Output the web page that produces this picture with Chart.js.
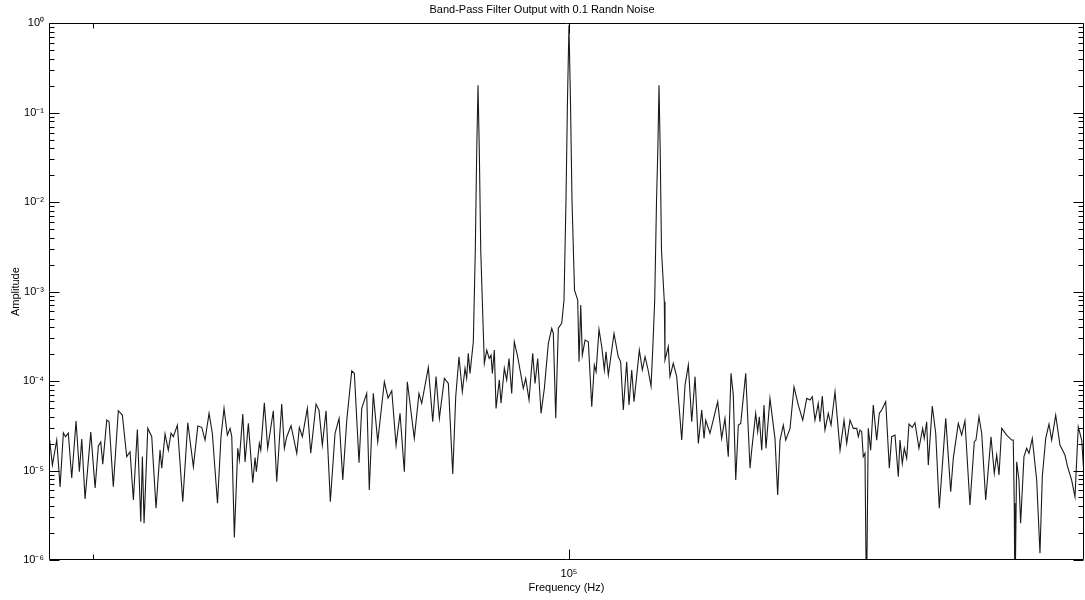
<!DOCTYPE html>
<html lang="en">
<head>
    <meta charset="UTF-8">
    <title>Band-Pass Filter Output</title>
    <script src="https://cdn.jsdelivr.net/npm/chart.js"></script>
    <style>
        html, body { margin: 0; padding: 0; background: #fff; }
        #wrap { width: 1085px; height: 600px; }
    </style>
</head>
<body>
    <div id="wrap"><canvas id="spectrum"></canvas></div>

    <script>
        // Spectrum: frequency (Hz) and amplitude
        const freqHz = [
            89120, 89185, 89271, 89337, 89402, 89445, 89500, 89568, 89654, 89720,
            89767, 89833, 89947, 90033, 90098, 90146, 90186, 90266, 90312, 90397,
            90497, 90578, 90666, 90733, 90800, 90880, 90949, 90981, 91015, 91090,
            91170, 91257, 91338, 91372, 91439, 91505, 91560, 91607, 91689, 91799,
            91901, 92015, 92105, 92186, 92253, 92335, 92402, 92508, 92580, 92642,
            92710, 92766, 92801, 92854, 92924, 92957, 93028, 93075, 93143, 93234,
            93281, 93308, 93370, 93399, 93473, 93543, 93659, 93730, 93834, 93889,
            93939, 94028, 94147, 94201, 94264, 94368, 94439, 94550, 94612, 94682,
            94760, 94850, 94949, 95034, 95112, 95196, 95301, 95356, 95455, 95512,
            95617, 95672, 95757, 95851, 95992, 96071, 96150, 96241, 96326, 96418,
            96482, 96631, 96731, 96790, 96932, 97027, 97098, 97169, 97277, 97363,
            97458, 97522, 97593, 97665, 97723, 97759, 97794, 97831, 97903, 97946,
            97977, 98005, 98033, 98064, 98121, 98142, 98195, 98247, 98288, 98317,
            98360, 98397, 98469, 98506, 98578, 98630, 98681, 98739, 98796, 98870,
            98993, 99046, 99119, 99200, 99251, 99310, 99383, 99456, 99544, 99619,
            99654, 99707, 99764, 99839, 99890, 99934, 99967, 100000, 100033, 100067,
            100123, 100194, 100223, 100261, 100296, 100357, 100430, 100506, 100564, 100602,
            100668, 100729, 100787, 100824, 100876, 101003, 101098, 101152, 101211, 101287,
            101339, 101400, 101452, 101571, 101639, 101700, 101761, 101835, 101873, 101918,
            101959, 101988, 102015, 102042, 102071, 102135, 102150, 102225, 102263, 102338,
            102416, 102530, 102605, 102680, 102757, 102833, 102908, 102985, 103038, 103076,
            103174, 103350, 103441, 103517, 103593, 103656, 103708, 103764, 103824, 103879,
            103994, 104093, 104132, 104224, 104270, 104307, 104363, 104416, 104462, 104554,
            104670, 104733, 104787, 104864, 104920, 105020, 105113, 105213, 105316, 105409,
            105486, 105539, 105602, 105679, 105719, 105773, 105836, 105914, 105978, 106072,
            106190, 106284, 106347, 106425, 106503, 106583, 106621, 106661, 106701, 106738,
            106778, 106814, 106856, 106913, 106975, 107056, 107118, 107175, 107270, 107356,
            107413, 107491, 107570, 107610, 107665, 107713, 107770, 107825, 107903, 107968,
            108063, 108152, 108190, 108248, 108287, 108383, 108465, 108551, 108706, 108826,
            108888, 109009, 109091, 109170, 109291, 109396, 109437, 109510, 109576, 109673,
            109802, 109882, 109941, 109997, 110062, 110184, 110306, 110345, 110369, 110386,
            110428, 110484, 110525, 110607, 110673, 110730, 110811, 110919, 111000, 111057,
            111141, 111222, 111288, 111387, 111493, 111616, 111682, 111782, 111864, 111946,
            112031, 112095
        ];

        const amplitude = [
            2.49e-5, 1.15e-5, 2.19e-5, 6.55e-6, 2.64e-5, 2.39e-5, 2.62e-5, 8.24e-6, 3.57e-5, 9.7e-6,
            2.25e-5, 4.81e-6, 2.69e-5, 6.37e-6, 1.88e-5, 2.08e-5, 1.18e-5, 3.66e-5, 3.51e-5, 6.59e-6,
            4.66e-5, 4.17e-5, 1.43e-5, 1.62e-5, 4.68e-6, 2.88e-5, 2.68e-6, 1.43e-5, 2.57e-6, 2.96e-5,
            2.39e-5, 3.78e-6, 1.69e-5, 1.06e-5, 2.56e-5, 1.69e-5, 2.61e-5, 2.39e-5, 3.22e-5, 4.48e-6,
            3.42e-5, 1.10e-5, 3.14e-5, 3.04e-5, 2.19e-5, 4.36e-5, 2.61e-5, 4.31e-6, 2.39e-5, 4.95e-5,
            2.49e-5, 2.96e-5, 2.39e-5, 1.79e-6, 1.77e-5, 1.31e-5, 4.28e-5, 1.25e-5, 3.37e-5, 7.31e-6,
            1.40e-5, 9.7e-6, 2.01e-5, 1.69e-5, 5.71e-5, 1.77e-5, 4.66e-5, 7.5e-6, 5.53e-5, 1.77e-5,
            2.39e-5, 3.17e-5, 1.56e-5, 3.04e-5, 2.39e-5, 4.95e-5, 1.56e-5, 5.53e-5, 4.74e-5, 1.93e-5,
            4.66e-5, 4.48e-6, 2.61e-5, 3.83e-5, 7.83e-6, 3.66e-5, 1.30e-4, 1.22e-4, 1.22e-5, 4.95e-5,
            7.29e-5, 6.05e-6, 7.29e-5, 2.10e-5, 9.82e-5, 6.46e-5, 7.80e-5, 1.93e-5, 4.36e-5, 9.7e-6,
            9.82e-5, 2.29e-5, 7.29e-5, 5.64e-5, 1.42e-4, 3.51e-5, 1.12e-4, 3.83e-5, 1.07e-4, 9.42e-5,
            9.14e-6, 6.68e-5, 1.87e-4, 7.59e-5, 1.39e-4, 1.07e-4, 2.04e-4, 1.22e-4, 2.75e-4, 2.91e-3,
            3.81e-2, 0.203, 3.81e-2, 2.91e-3, 3.41e-4, 1.58e-4, 2.22e-4, 1.79e-4, 1.95e-4, 1.22e-4,
            2.22e-4, 4.95e-5, 1.03e-4, 5.64e-5, 1.39e-4, 1.03e-4, 1.79e-4, 7.29e-5, 2.75e-4, 1.87e-4,
            8.28e-5, 1.07e-4, 6.14e-5, 2.04e-4, 9.42e-5, 1.79e-4, 4.36e-5, 8.28e-5, 2.64e-4, 3.88e-4,
            3.41e-4, 3.83e-5, 3.91e-4, 4.42e-4, 8.04e-4, 1.05e-2, 0.138, 0.95, 0.138, 1.05e-2,
            1.04e-3, 8.04e-4, 1.64e-4, 7.06e-4, 1.95e-4, 2.87e-4, 2.75e-4, 5.16e-5, 1.51e-4, 1.27e-4,
            3.78e-4, 2.42e-4, 1.33e-4, 2.12e-4, 1.17e-4, 3.41e-4, 1.87e-4, 1.64e-4, 4.74e-5, 1.64e-4,
            5.39e-5, 1.33e-4, 5.87e-5, 2.22e-4, 1.33e-4, 1.87e-4, 1.39e-4, 8.79e-5, 2.22e-4, 8.04e-4,
            1.05e-2, 3.81e-2, 0.203, 3.81e-2, 2.91e-3, 7.69e-4, 1.72e-4, 2.42e-4, 1.12e-4, 1.58e-4,
            1.12e-4, 2.19e-5, 9.02e-5, 1.51e-4, 3.51e-5, 1.12e-4, 2.01e-5, 4.74e-5, 2.29e-5, 3.66e-5,
            2.61e-5, 5.87e-5, 2.29e-5, 3.83e-5, 1.43e-5, 1.22e-4, 6.98e-5, 7.83e-6, 3.22e-5, 3.37e-5,
            1.22e-4, 1.06e-5, 1.69e-5, 4.36e-5, 2.72e-5, 3.99e-5, 1.69e-5, 5.39e-5, 1.77e-5, 6.41e-5,
            2.29e-5, 5.32e-6, 2.19e-5, 3.22e-5, 2.19e-5, 2.96e-5, 8.63e-5, 5.39e-5, 3.66e-5, 6.41e-5,
            6.14e-5, 6.68e-5, 3.66e-5, 5.64e-5, 3.51e-5, 6.79e-5, 2.84e-5, 4.36e-5, 3.22e-5, 7.59e-5,
            1.69e-5, 3.66e-5, 2.01e-5, 3.66e-5, 2.96e-5, 2.96e-5, 2.39e-5, 2.84e-5, 2.72e-5, 1.43e-5,
            1.56e-5, 3e-7, 2.96e-5, 1.69e-5, 5.39e-5, 2.19e-5, 4.36e-5, 4.74e-5, 5.87e-5, 1.06e-5,
            2.39e-5, 2.49e-5, 8.53e-6, 2.19e-5, 1.20e-5, 1.77e-5, 1.37e-5, 3.31e-5, 3.04e-5, 3.42e-5,
            1.77e-5, 2.96e-5, 2.29e-5, 3.51e-5, 1.15e-5, 5.26e-5, 2.61e-5, 3.78e-6, 3.83e-5, 5.79e-6,
            1.37e-5, 3.37e-5, 2.49e-5, 3.60e-5, 4.12e-6, 2.10e-5, 2.19e-5, 3.99e-5, 2.61e-5, 4.68e-6,
            2.39e-5, 9.31e-6, 1.49e-5, 8.91e-6, 2.96e-5, 2.49e-5, 2.19e-5, 2.19e-5, 4.31e-6, 3e-7,
            1.25e-5, 7.83e-6, 2.57e-6, 1.43e-5, 1.77e-5, 1.56e-5, 2.29e-5, 7.83e-6, 1.19e-6, 8.53e-6,
            2.29e-5, 3.31e-5, 2.19e-5, 4.17e-5, 1.93e-5, 1.49e-5, 1.10e-5, 7.83e-6, 5.09e-6, 3.08e-5,
            2.19e-5, 7.83e-6
        ];

        // axis limits and ticks
        const xRange = [89118, 112088];
        const yRange = [1e-6, 1];
        const xMajorTicks = [1e5];
        const xMinorTicks = [9e4];
        const yDecades = [1e-6, 1e-5, 1e-4, 1e-3, 1e-2, 1e-1, 1e0];

        const SUP = { '0': '⁰', '1': '¹', '2': '²', '3': '³', '4': '⁴', '5': '⁵', '6': '⁶', '-': '⁻' };
        function powLabel(v) {
            const e = String(Math.round(Math.log10(v)));
            return '10' + e.split('').map(c => SUP[c]).join('');
        }
        function isDecade(v) {
            return yDecades.some(d => Math.abs(v / d - 1) < 1e-6);
        }

        // y ticks: decades plus 2..9 minor ticks between them
        const yTicks = [];
        yDecades.forEach((d, i) => {
            yTicks.push(d);
            if (i < yDecades.length - 1) {
                for (let m = 2; m <= 9; m++) yTicks.push(d * m);
            }
        });

        const points = freqHz.map((f, i) => ({ x: f, y: amplitude[i] }));

        // box frame + inward tick marks, MATLAB style
        const frameTicks = {
            id: 'frameTicks',
            afterDatasetsDraw(chart) {
                const { ctx, chartArea: a, scales: { x, y } } = chart;
                const L = Math.round(a.left) + 0.5, R = Math.round(a.right) - 0.5;
                const T = Math.round(a.top) + 0.5, B = Math.round(a.bottom) - 0.5;
                ctx.save();
                ctx.strokeStyle = '#000';
                ctx.lineWidth = 1;
                ctx.beginPath();
                ctx.rect(L, T, R - L, B - T);
                yTicks.forEach(v => {
                    const py = Math.round(y.getPixelForValue(v)) + 0.5;
                    const len = isDecade(v) ? 10 : 5;
                    ctx.moveTo(L, py); ctx.lineTo(L + len, py);
                    ctx.moveTo(R, py); ctx.lineTo(R - len, py);
                });
                const xt = xMajorTicks.map(v => [v, 10]).concat(xMinorTicks.map(v => [v, 5]));
                xt.forEach(([v, len]) => {
                    const px = Math.round(x.getPixelForValue(v)) + 0.5;
                    ctx.moveTo(px, B); ctx.lineTo(px, B - len);
                    ctx.moveTo(px, T); ctx.lineTo(px, T + len);
                });
                ctx.stroke();
                ctx.restore();
            }
        };

        const font = { family: "'Liberation Sans', Arial, sans-serif", size: 11 };

        new Chart(document.getElementById('spectrum'), {
            type: 'line',
            data: {
                datasets: [{
                    data: points,
                    borderColor: '#1a1a1a',
                    borderWidth: 1.1,
                    pointRadius: 0,
                    tension: 0,
                    fill: false
                }]
            },
            options: {
                responsive: true,
                maintainAspectRatio: false,
                animation: false,
                layout: { padding: { left: 0, right: 1, top: 0, bottom: 0 } },
                plugins: {
                    legend: { display: false },
                    tooltip: { enabled: false },
                    title: {
                        display: true,
                        text: 'Band-Pass Filter Output with 0.1 Randn Noise',
                        color: '#000',
                        font: { ...font, weight: 'normal' },
                        padding: { top: 3, bottom: 7 }
                    }
                },
                scales: {
                    x: {
                        type: 'logarithmic',
                        min: xRange[0],
                        max: xRange[1],
                        afterBuildTicks: s => { s.ticks = xMinorTicks.concat(xMajorTicks).map(v => ({ value: v })); },
                        afterFit: s => { s.height = 40; },
                        grid: { display: false, drawTicks: false },
                        border: { display: false },
                        ticks: {
                            autoSkip: false,
                            maxRotation: 0,
                            padding: 7,
                            color: '#000',
                            font: font,
                            callback: v => xMajorTicks.includes(v) ? powLabel(v) : ''
                        },
                        title: {
                            display: true,
                            text: 'Frequency (Hz)',
                            color: '#000',
                            font: font,
                            padding: { top: 0, bottom: 5 }
                        }
                    },
                    y: {
                        type: 'logarithmic',
                        min: yRange[0],
                        max: yRange[1],
                        afterBuildTicks: s => { s.ticks = yTicks.map(v => ({ value: v })); },
                        afterFit: s => { s.width = 49; },
                        grid: { display: false, drawTicks: false },
                        border: { display: false },
                        ticks: {
                            autoSkip: false,
                            padding: 5,
                            color: '#000',
                            font: font,
                            callback: v => isDecade(v) ? powLabel(v) : ''
                        },
                        title: {
                            display: true,
                            text: 'Amplitude',
                            color: '#000',
                            font: font,
                            padding: { top: 9, bottom: 0 }
                        }
                    }
                }
            },
            plugins: [frameTicks]
        });
    </script>
</body>
</html>
